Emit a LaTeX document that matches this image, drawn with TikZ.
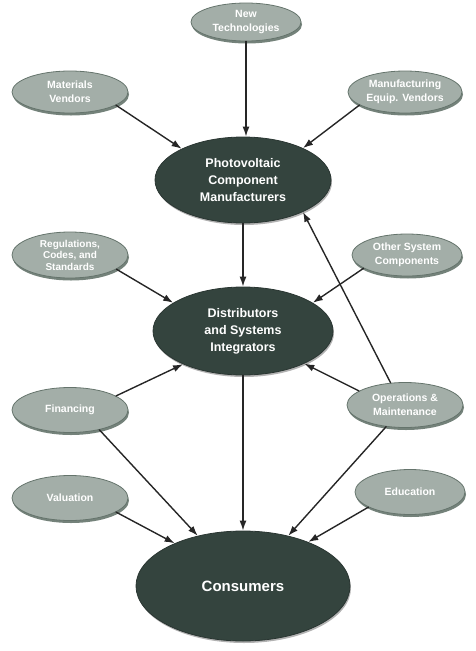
\documentclass[tikz,border=0pt]{standalone}
\usepackage{fontspec}
\setmainfont{Liberation Sans}
\usetikzlibrary{shapes.geometric,arrows.meta,shadows}
\definecolor{lightoval}{HTML}{A3AEA8}
\definecolor{ovalrim}{HTML}{65746C}
\definecolor{darkoval}{HTML}{34443E}
\begin{document}
\begin{tikzpicture}[x=1pt, y=-1pt, line join = round, line cap = round, line width = 1.4pt,
	small/.style={ellipse, fill=lightoval, draw=ovalrim, line width=.8pt, minimum width=116pt, minimum height=42pt, inner sep=0pt, align=center, text=white, font=\bfseries\fontsize{10.5}{14}\selectfont, drop shadow={shadow xshift=1pt, shadow yshift=-2.5pt, fill=ovalrim, opacity=.9}},
	big/.style={ellipse, fill=darkoval, draw=darkoval!80!black, line width=.8pt, minimum width=176pt, minimum height=86pt, inner sep=0pt, align=center, text=white, font=\bfseries\fontsize{12.5}{17}\selectfont, drop shadow={shadow xshift=1pt, shadow yshift=-2pt, fill=black!60, opacity=.5}},
	arr/.style={-{Latex[length=10pt,width=7pt]}, draw=black!85}]
	\useasboundingbox (0,0) rectangle (475,651);
	% big ovals
	\node[big] (pv) at (243,180) {Photovoltaic\\Component\\Manufacturers};
	\node[big, minimum width=180pt, minimum height=88pt] (dist) at (243,331) {Distributors\\and Systems\\Integrators};
	\node[big, minimum width=214pt, minimum height=110pt, font=\bfseries\fontsize{15}{17}\selectfont] (cons) at (243,586) {Consumers};
	% small ovals
	\node[small, minimum width=110pt, minimum height=38pt] (newt) at (246,22) {New\\Technologies};
	\node[small] (matv) at (70,92) {Materials\\Vendors};
	\node[small, minimum width=114pt] (equv) at (405,92) {Manufacturing\\Equip. Vendors};
	\node[small, minimum height=46pt, font=\bfseries\fontsize{10}{11.5}\selectfont] (regs) at (70,255) {Regulations,\\Codes, and\\Standards};
	\node[small, minimum width=110pt] (othr) at (407,255) {Other System\\Components};
	\node[small, minimum height=45pt] (fina) at (70,410) {Financing};
	\node[small, minimum height=45pt] (opma) at (405,405) {Operations \&\\Maintenance};
	\node[small, minimum height=45pt] (valu) at (70,498) {Valuation};
	\node[small, minimum width=110pt, minimum height=45pt] (educ) at (410,492) {Education};
	% arrows
	\draw[arr] (newt.south) -- (newt.south |- pv.north);
	\draw[arr] (matv.-16) -- (pv.153);
	\draw[arr] (equv.196) -- (pv.28);
	\draw[arr] (pv.south) -- (pv.south |- dist.north);
	\draw[arr] (regs.-17) -- (dist.158);
	\draw[arr] (othr.197) -- (dist.22);
	\draw[arr] (fina.17) -- (dist.209);
	\draw[arr] (opma.163) -- (dist.332);
	\draw[arr] (opma.123) -- (pv.-28);
	\draw[arr] (dist.south) -- (dist.south |- cons.north);
	\draw[arr] (fina.-34) -- (cons.132);
	\draw[arr] (opma.229) -- (cons.48);
	\draw[arr] (valu.-17) -- (cons.148);
	\draw[arr] (educ.200) -- (cons.34);
\end{tikzpicture}
\end{document}
